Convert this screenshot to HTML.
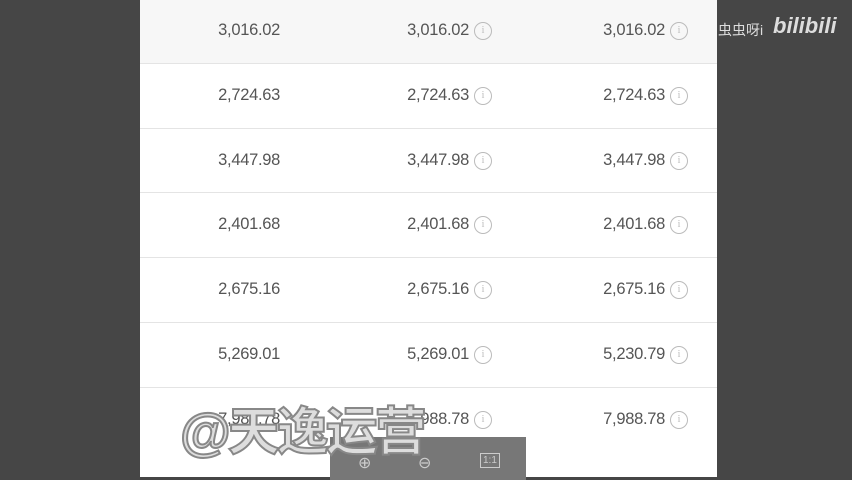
<!DOCTYPE html>
<html><head><meta charset="utf-8"><style>
body{margin:0;width:852px;height:480px;background:#464646;overflow:hidden;position:relative;font-family:"Liberation Sans",sans-serif}
#panel{position:absolute;left:140px;top:0;width:577px;height:477px;background:#fff}
.top{position:absolute;left:0;top:0;width:577px;height:63px;background:#f7f7f7}
.line{position:absolute;left:0;width:577px;height:1px;background:#e4e4e4}
.v{position:absolute;font-size:16.5px;color:#555;text-align:right;width:110px;letter-spacing:-0.3px}
.i{position:absolute;width:18px;height:18px;border:1.5px solid #bbb;border-radius:50%;box-sizing:border-box;font-size:10px;color:#bbb;text-align:center;line-height:15px;font-family:"Liberation Serif",serif}
#tb{position:absolute;left:330px;top:437px;width:196px;height:43px;background:#777}
#wm{position:absolute;left:180px;top:403px;font-size:52px;line-height:60px;font-weight:bold;color:#ddd;-webkit-text-stroke:2px #888;font-family:"Liberation Sans","Noto Sans CJK SC",sans-serif;letter-spacing:-3px}
#bl{position:absolute;left:718px;top:20px;font-size:14px;color:#ddd;font-family:"Liberation Sans","Noto Sans CJK SC",sans-serif}
#bb{position:absolute;left:773px;top:13px;font-size:22px;font-weight:bold;color:#ddd;font-style:italic}
</style></head><body>
<div id="panel">
<div class="top"></div>
<div id="rows"></div>
</div>
<div id="bl">虫虫呀i</div>
<div id="bb">bilibili</div>
<div id="tb">
<span style="position:absolute;left:28px;top:16px;color:#ccc;font-size:16px">⊕</span>
<span style="position:absolute;left:88px;top:16px;color:#ccc;font-size:16px">⊖</span>
<span style="position:absolute;left:150px;top:16px;color:#ccc;font-size:10px;border:1px solid #ccc;padding:1px 2px">1:1</span>
</div>
<div id="wm">@天逸运营</div>
<script>
const col1=["3,016.02","2,724.63","3,447.98","2,401.68","2,675.16","5,269.01","7,988.78"];
const col2=["3,016.02","2,724.63","3,447.98","2,401.68","2,675.16","5,269.01","7,988.78"];
const col3=["3,016.02","2,724.63","3,447.98","2,401.68","2,675.16","5,230.79","7,988.78"];
const rows=document.getElementById('rows');
const rh=64.8;
col1.forEach((v,k)=>{
  const cy=31+k*rh;
  if(k>0){const l=document.createElement('div');l.className='line';l.style.top=(cy-33)+'px';
  
  rows.appendChild(l);}
  [[col1[k],140,false],[col2[k],329,true],[col3[k],525,true]].forEach(([t,x,ic])=>{
    const d=document.createElement('div');d.className='v';d.textContent=t;d.style.left=(x-110)+'px';d.style.top=(cy-10)+'px';
    
    rows.appendChild(d);
    if(ic){const i=document.createElement('div');i.className='i';i.textContent='i';i.style.left=(x+5)+'px';i.style.top=(cy-9)+'px';
    
    rows.appendChild(i);}
  });
});
</script>
</body></html>
